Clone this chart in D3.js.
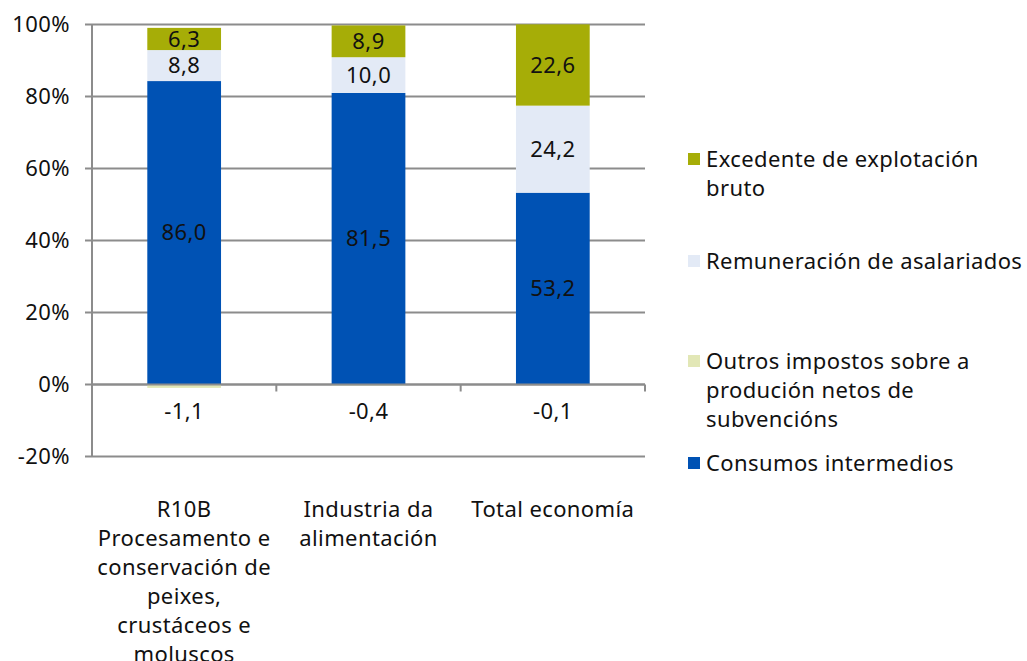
<!DOCTYPE html>
<html>
<head>
<meta charset="utf-8">
<script src="https://cdn.jsdelivr.net/npm/d3@7"></script>
<style>
  html, body { margin: 0; padding: 0; background: #fff; }
  svg { display: block; font-family: "Noto Sans", sans-serif; letter-spacing: 0.4px; }
</style>
</head>
<body>
<svg id="chart" width="1027" height="661"></svg>
<script>
// ---- Data ----
const categories = [
  ["R10B", "Procesamento e", "conservación de", "peixes,", "crustáceos e", "moluscos"],
  ["Industria da", "alimentación"],
  ["Total economía"]
];
const consumosIntermedios = [86.0, 81.5, 53.2];
const outrosImpostos = [-1.1, -0.4, -0.1];
const remuneracionAsalariados = [8.8, 10.0, 24.2];
const excedenteExplotacion = [6.3, 8.9, 22.6];
const yTicks = [-20, 0, 20, 40, 60, 80, 100];

const seriesKeys = ["consumos", "outros", "remuneracion", "excedente"];
const seriesColors = { consumos: "#0052B4", outros: "#E2E7B6", remuneracion: "#E3EAF6", excedente: "#A6AD07" };
const legendLines = {
  excedente: ["Excedente de explotación", "bruto"],
  remuneracion: ["Remuneración de asalariados"],
  outros: ["Outros impostos sobre a", "produción netos de", "subvencións"],
  consumos: ["Consumos intermedios"]
};

// Build rows; 100% stacked (normalised by sum of absolute values, as in the original)
const rows = categories.map((c, i) => {
  const raw = {
    consumos: consumosIntermedios[i],
    outros: outrosImpostos[i],
    remuneracion: remuneracionAsalariados[i],
    excedente: excedenteExplotacion[i]
  };
  const tot = d3.sum(seriesKeys, k => Math.abs(raw[k]));
  const r = { idx: i, raw };
  seriesKeys.forEach(k => r[k] = raw[k] / tot * 100);
  return r;
});

// ---- Layout ----
const svg = d3.select("#chart");
const plot = { left: 92, right: 645, top: 24, bottom: 456 };
const fs = 22;

const x = d3.scaleBand().domain(d3.range(categories.length)).range([plot.left, plot.right]).padding(0);
const y = d3.scaleLinear().domain([-20, 100]).range([plot.bottom, plot.top]);
const barW = x.bandwidth() * 0.4;

const gridColor = "#8c8c8c";

// gridlines
svg.append("g").selectAll("line").data(yTicks).join("line")
  .attr("x1", plot.left - 7).attr("x2", plot.right)
  .attr("y1", d => Math.round(y(d)) + 0.5).attr("y2", d => Math.round(y(d)) + 0.5)
  .attr("stroke", gridColor).attr("stroke-width", 2);

// y axis line
svg.append("line")
  .attr("x1", plot.left).attr("x2", plot.left)
  .attr("y1", y(100)).attr("y2", y(-20))
  .attr("stroke", gridColor).attr("stroke-width", 2);

// y tick labels
svg.append("g").selectAll("text").data(yTicks).join("text")
  .attr("x", plot.left - 22).attr("y", d => y(d))
  .attr("dy", "0.35em").attr("text-anchor", "end")
  .attr("font-size", fs).attr("fill", "#111")
  .text(d => d + "%");

// stacked bars
const stack = d3.stack().keys(seriesKeys).offset(d3.stackOffsetDiverging);
const stacked = stack(rows);

const gBars = svg.append("g");
stacked.forEach(s => {
  gBars.selectAll(null).data(s).join("rect")
    .attr("x", d => x(d.data.idx) + x.bandwidth() / 2 - barW / 2)
    .attr("width", barW)
    .attr("y", d => y(Math.max(d[0], d[1])))
    .attr("height", d => Math.abs(y(d[0]) - y(d[1])))
    .attr("fill", seriesColors[s.key]);
});

// x axis at 0 with ticks at band boundaries
const y0 = Math.round(y(0)) + 0.5;
svg.append("line").attr("x1", plot.left).attr("x2", plot.right)
  .attr("y1", y0).attr("y2", y0).attr("stroke", gridColor).attr("stroke-width", 2);
const bounds = d3.range(categories.length + 1).map(i => plot.left + i * x.step());
svg.append("g").selectAll("line").data(bounds).join("line")
  .attr("x1", d => d).attr("x2", d => d)
  .attr("y1", y0).attr("y2", y0 + 7)
  .attr("stroke", gridColor).attr("stroke-width", 2);

// value labels
const fmt = v => v.toFixed(1).replace(".", ",");
stacked.forEach(s => {
  svg.append("g").selectAll("text").data(s).join("text")
    .attr("x", d => x(d.data.idx) + x.bandwidth() / 2)
    .attr("y", d => s.key === "outros" ? y(0) + 27 : y((d[0] + d[1]) / 2))
    .attr("dy", "0.35em").attr("text-anchor", "middle")
    .attr("font-size", fs).attr("fill", "#111")
    .text(d => fmt(d.data.raw[s.key]));
});

// category labels
const gCat = svg.append("g");
categories.forEach((lines, i) => {
  const t = gCat.append("text")
    .attr("x", x(i) + x.bandwidth() / 2).attr("y", 517)
    .attr("text-anchor", "middle").attr("font-size", fs).attr("fill", "#111");
  lines.forEach((l, j) => t.append("tspan").attr("x", x(i) + x.bandwidth() / 2).attr("y", 517 + j * 29).text(l));
});

// legend
const legendOrder = ["excedente", "remuneracion", "outros", "consumos"];
const legendY = [159, 261, 361, 463];
const gLeg = svg.append("g");
legendOrder.forEach((k, i) => {
  gLeg.append("rect").attr("x", 688).attr("y", legendY[i] - 6).attr("width", 12).attr("height", 12)
    .attr("fill", seriesColors[k]);
  const t = gLeg.append("text").attr("font-size", fs).attr("fill", "#111");
  legendLines[k].forEach((l, j) => t.append("tspan").attr("x", 706).attr("y", legendY[i] + j * 29).attr("dy", "0.35em").text(l));
});
</script>
</body>
</html>
